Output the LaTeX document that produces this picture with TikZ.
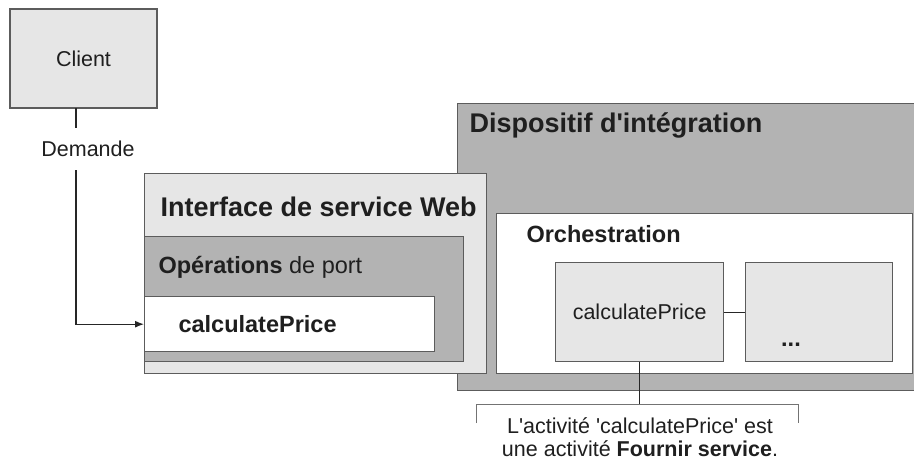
\documentclass[tikz,border=0pt]{standalone}
\usepackage{fontspec}
\setmainfont{Liberation Sans}
\usetikzlibrary{arrows.meta}

\definecolor{lightgr}{HTML}{E6E6E6}
\definecolor{darkgr}{HTML}{B3B3B3}
\definecolor{edgegr}{HTML}{5C5C5C}

\newcommand\titlefont{\fontsize{27}{32}\selectfont\bfseries}
\newcommand\subfont{\fontsize{23.5}{28}\selectfont}
\newcommand\apos{\textquotesingle}

\begin{document}
\begin{tikzpicture}[x=1pt, y=-1pt,
        every node/.style={font=\fontsize{21.5}{23.5}\selectfont, text=black!88},
        box/.style={draw=edgegr, line width=1.4pt, anchor=north west, inner sep=0pt},
        pale/.style={box, fill=lightgr},
        dark/.style={box, fill=darkgr},
        plain/.style={box, fill=white},
        wire/.style={line width=1.2pt, black!85},
        brace/.style={line width=1pt, black!55}]
        \useasboundingbox (0,0) rectangle (914,464);

        % integration device (runs off the right edge)
        \node[dark, minimum width=462, minimum height=287] (D) at (457,103) {};
        \node[anchor=west, font=\titlefont] (Dt) at (466,125) {Dispositif d\apos intégration};
        \node[plain, minimum width=416, minimum height=160] (O) at (496,213) {};
        \node[anchor=west, font=\subfont\bfseries] (Ot) at (523,234) {Orchestration};
        \node[pale, minimum width=168, minimum height=99] (P) at (555,262) {calculatePrice};
        \node[pale, minimum width=147, minimum height=99] (M) at (745,262) {};
        \node[font=\subfont\bfseries, inner sep=0pt] (Mt) at (791,345) {...};
        \draw[wire] (P) -- (M);

        % web service interface
        \node[pale, minimum width=342, minimum height=200] (I) at (144,173) {};
        \node[anchor=west, font=\titlefont] (It) at (157,207) {Interface de service Web};
        \node[dark, minimum width=319, minimum height=125] (Op) at (144,236) {};
        \node[anchor=west, font=\subfont] (Opt) at (155,267) {\textbf{Opérations} de port};
        \node[plain, minimum width=290, minimum height=55] (C) at (144,296) {};
        \node[anchor=west, font=\subfont\bfseries] (Ct) at (175,324) {calculatePrice};

        % client and request
        \node[pale, anchor=center, minimum width=147, minimum height=99] (K) at (83.5,58.5) {Client};
        \node[minimum height=42, inner sep=0pt] (Dm) at (88,149) {Demande};
        \coordinate (R) at (76,108);
        \draw[wire] (R) -- (R |- Dm.north);
        \draw[wire, -{Latex[length=9pt,width=7pt]}] (R |- Dm.south) |- (C.west);

        % note
        \coordinate (BL) at (476,404);
        \coordinate (BR) at (798,404);
        \draw[brace] (476,423) -- (BL) -- (BR) -- (798,423);
        \draw[wire] (P.south) -- (P.south |- BL);
        \node[align=center] (N) at (640,437) {L\apos activité \apos calculatePrice\apos\ est\\une activité \textbf{Fournir service}.};
    \end{tikzpicture}
\end{document}
